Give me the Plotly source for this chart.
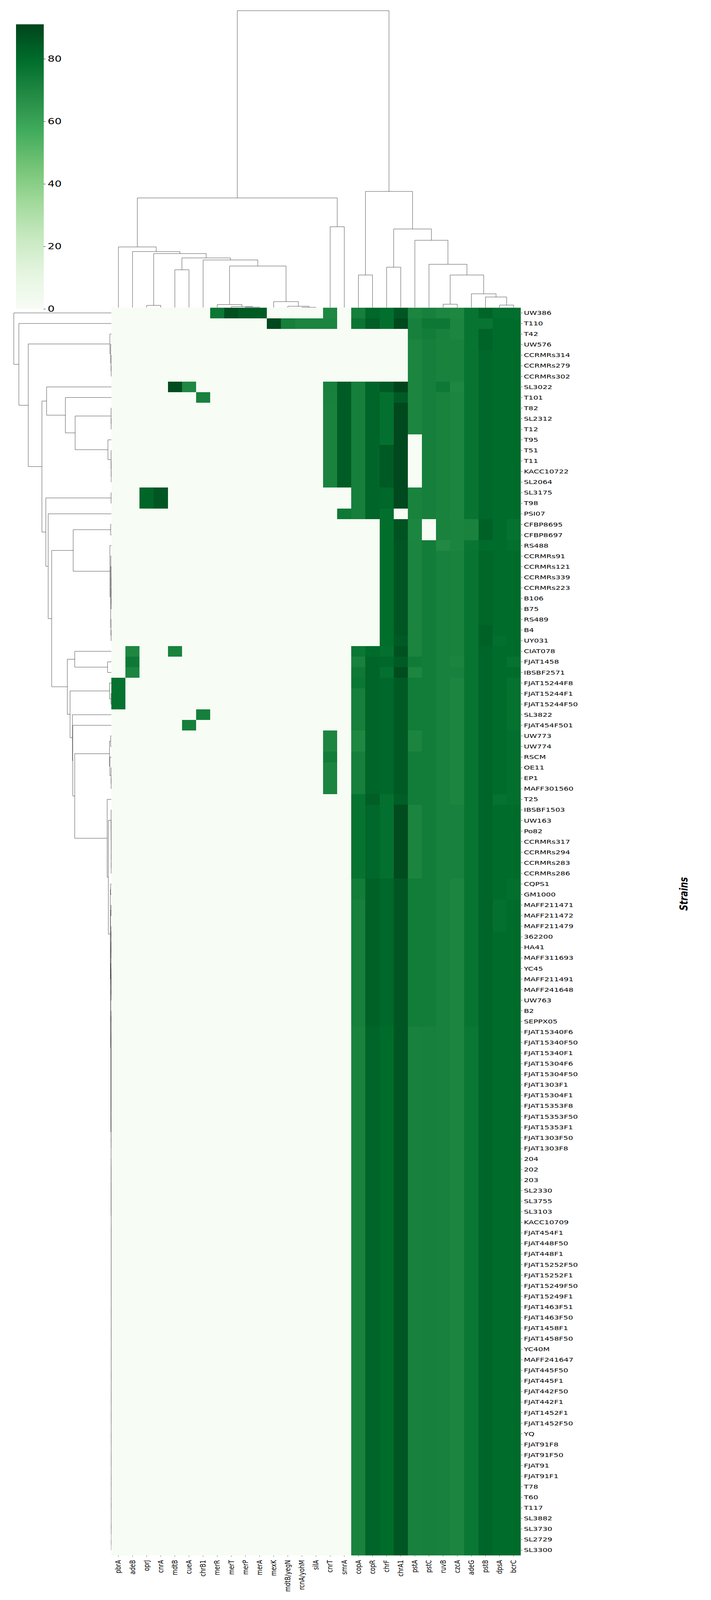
import numpy as np
import plotly.graph_objects as go

W, H = 1820, 5529

strains = [
    'UW386', 'T110', 'T42', 'UW576', 'CCRMRs314', 'CCRMRs279', 'CCRMRs302', 'SL3022', 'T101', 'T82',
    'SL2312', 'T12', 'T95', 'T51', 'T11', 'KACC10722', 'SL2064', 'SL3175', 'T98', 'PSI07',
    'CFBP8695', 'CFBP8697', 'RS488', 'CCRMRs91', 'CCRMRs121', 'CCRMRs339', 'CCRMRs223', 'B106', 'B75', 'RS489',
    'B4', 'UY031', 'CIAT078', 'FJAT1458', 'IBSBF2571', 'FJAT15244F8', 'FJAT15244F1', 'FJAT15244F50', 'SL3822', 'FJAT454F501',
    'UW773', 'UW774', 'RSCM', 'OE11', 'EP1', 'MAFF301560', 'T25', 'IBSBF1503', 'UW163', 'Po82',
    'CCRMRs317', 'CCRMRs294', 'CCRMRs283', 'CCRMRs286', 'CQPS1', 'GM1000', 'MAFF211471', 'MAFF211472', 'MAFF211479', '362200',
    'HA41', 'MAFF311693', 'YC45', 'MAFF211491', 'MAFF241648', 'UW763', 'B2', 'SEPPX05', 'FJAT15340F6', 'FJAT15340F50',
    'FJAT15340F1', 'FJAT15304F6', 'FJAT15304F50', 'FJAT1303F1', 'FJAT15304F1', 'FJAT15353F8', 'FJAT15353F50', 'FJAT15353F1', 'FJAT1303F50', 'FJAT1303F8',
    '204', '202', '203', 'SL2330', 'SL3755', 'SL3103', 'KACC10709', 'FJAT454F1', 'FJAT448F50', 'FJAT448F1',
    'FJAT15252F50', 'FJAT15252F1', 'FJAT15249F50', 'FJAT15249F1', 'FJAT1463F51', 'FJAT1463F50', 'FJAT1458F1', 'FJAT1458F50', 'YC40M', 'MAFF241647',
    'FJAT445F50', 'FJAT445F1', 'FJAT442F50', 'FJAT442F1', 'FJAT1452F1', 'FJAT1452F50', 'YQ', 'FJAT91F8', 'FJAT91F50', 'FJAT91',
    'FJAT91F1', 'T78', 'T60', 'T117', 'SL3882', 'SL3730', 'SL2729', 'SL3300',
]

genes = [
    'pbrA', 'adeB', 'oprJ', 'cnrA', 'mdtB', 'cueA', 'chrB1', 'merR', 'merT', 'merP',
    'merA', 'mexK', 'mdtB/yegN', 'rcnA/yohM', 'silA', 'cnrT', 'smrA', 'copA', 'copR', 'chrF',
    'chrA1', 'pstA', 'pstC', 'ruvB', 'czcA', 'adeG', 'pstB', 'dpsA', 'bcrC',
]

# values per gene, top row to bottom row
pbrA = [0]*35 + [78]*3 + [0]*80
adeB = [0]*32 + [70, 75, 70.5] + [0]*83
oprJ = [0]*17 + [82]*2 + [0]*99
cnrA = [0]*17 + [86]*2 + [0]*99
mdtB = [0]*7 + [89] + [0]*24 + [71.5] + [0]*85
cueA = [0]*7 + [70] + [0]*31 + [73] + [0]*78
chrB1 = [0]*8 + [72] + [0]*29 + [73] + [0]*79
merR = [76] + [0]*117
merT = [88] + [0]*117
merP = [85] + [0]*117
merA = [84.5] + [0]*117
mexK = [0, 90] + [0]*116
mdtB_yegN = [0, 73] + [0]*116
rcnA_yohM = [0, 71] + [0]*116
silA = [0, 71] + [0]*116
cnrT = [70, 71] + [0]*5 + [72.5, 72] + [71.5]*8 + [0]*23 + [70.5, 70.5, 74, 71, 71, 71] + [0]*72
smrA = [0]*7 + [84.5]*10 + [0]*2 + [75] + [0]*98
copA = [73, 76.5] + [0]*5 + [73]*13 + [0]*12 + [76, 72, 75, 76] + [73]*4 + [70]*2 + [73]*4 + [77.5]*8 + [74]*2 + [72.5]*12 + [71.5]*50
copR = [81, 84] + [0]*5 + [82]*13 + [0]*12 + [80] + [82]*13 + [84] + [81]*7 + [83]*14 + [82]*50
chrF = [79, 79] + [0]*5 + [85, 78.5] + [78.5]*4 + [85]*4 + [81]*2 + [79] + [79.5]*12 + [78.5, 81, 78.5] + [81]*11 + [78.5] + [78.5]*7 + [81]*14 + [80]*50
chrA1 = [86, 90] + [0]*5 + [91, 85] + [90]*10 + [0] + [87]*2 + [86.5]*8 + [86, 85, 87.5, 85, 89] + [85]*11 + [84] + [89]*7 + [86]*64
pstA = [70.5, 72.5, 72.5] + [70.5]*9 + [0]*5 + [71.5]*3 + [70.5]*2 + [71]*11 + [74.5, 70.5] + [74]*5 + [71]*2 + [74]*5 + [71]*7 + [74]*14 + [72]*50
pstC = [72.5, 75.5, 74] + [73]*9 + [73]*8 + [0]*2 + [74] + [74]*45 + [72.5]*50
ruvB = [70.5, 75.5, 72] + [71.5]*4 + [75] + [71.5]*14 + [69] + [72]*95
czcA = [70, 70.5, 70.5] + [71.5]*4 + [70] + [70.5]*12 + [71]*3 + [71.5]*10 + [71, 72] + [70.5]*5 + [70.5]*7 + [72]*7 + [70.5]*64
adeG = [77]*20 + [71.5]*2 + [76.5] + [77]*45 + [76]*50
pstB = [82, 77, 82.5, 82.5] + [81]*16 + [83]*2 + [80] + [81.5]*7 + [83]*2 + [82]*86
dpsA = [79] + [80]*30 + [79] + [80]*14 + [78] + [80]*9 + [78.5]*3 + [80]*59
bcrC = [79] + [80]*19 + [78]*2 + [79] + [80]*10 + [78, 80] + [78]*5 + [79]*2 + [79]*4 + [79] + [80]*7 + [79]*2 + [80]*62

gene_values = [
    pbrA, adeB, oprJ, cnrA, mdtB, cueA, chrB1, merR, merT, merP,
    merA, mexK, mdtB_yegN, rcnA_yohM, silA, cnrT, smrA, copA, copR, chrF,
    chrA1, pstA, pstC, ruvB, czcA, adeG, pstB, dpsA, bcrC,
]

# linkage of the genes (leaf i is i, link k is 29 + k)
gene_link_a = [2, 4, 9, 8, 7, 13, 12, 11, 33, 6, 30, 29, 1, 0, 15, 42, 17, 19, 23, 27, 26, 25, 47, 22, 21, 46, 45, 44]
gene_link_b = [3, 5, 10, 31, 32, 14, 34, 35, 36, 37, 38, 39, 40, 41, 16, 43, 18, 20, 24, 28, 48, 49, 50, 51, 52, 53, 54, 55]
gene_link_h = [7.7, 130.7, 1.7, 3.7, 10.7, 1.0, 4.7, 20.7, 143.7, 164.7, 171.7, 186.7, 193.7, 209.7, 279.4, 379,
               112.7, 139.7, 11.7, 8.7, 36.7, 47.7, 112.7, 149.7, 232.7, 271.7, 401.5, 1026]

# linkage of the strains (leaf i is i, link k is 118 + k)
strain_link_a = [
    5, 4, 3, 2, 10, 9, 15, 14, 13, 12, 123, 8, 7, 17, 20, 27, 26, 25, 24, 23,
    30, 29, 137, 22, 132, 33, 32, 36, 35, 40, 44, 43, 42, 147, 52, 51, 50, 49, 48, 47,
    54, 56, 64, 62, 60, 58, 161, 163, 165, 66, 68, 70, 72, 74, 76, 78, 168, 170, 172, 175,
    174, 167, 81, 80, 84, 83, 181, 86, 88, 90, 92, 94, 96, 98, 100, 102, 104, 106, 108, 110,
    112, 114, 116, 199, 198, 197, 196, 195, 194, 193, 192, 191, 190, 189, 188, 187, 186, 185, 184, 179,
    166, 159, 158, 157, 46, 151, 39, 38, 146, 144, 142, 19, 131, 130, 121, 1, 0,
]
strain_link_b = [
    6, 118, 119, 120, 11, 122, 16, 124, 125, 126, 127, 128, 129, 18, 21, 28, 133, 134, 135, 136,
    31, 138, 139, 140, 141, 34, 143, 37, 145, 41, 45, 148, 149, 150, 53, 152, 153, 154, 155, 156,
    55, 57, 65, 63, 61, 59, 160, 162, 164, 67, 69, 71, 73, 75, 77, 79, 169, 171, 173, 176,
    177, 178, 82, 180, 85, 182, 183, 87, 89, 91, 93, 95, 97, 99, 101, 103, 105, 107, 109, 111,
    113, 115, 117, 200, 201, 202, 203, 204, 205, 206, 207, 208, 209, 210, 211, 212, 213, 214, 215, 216,
    217, 218, 219, 220, 221, 222, 223, 224, 225, 226, 227, 228, 229, 230, 231, 232, 233,
]
strain_link_h = [
    .4, .8, 1.7, 3.7, .4, .7, .3, .5, .7, 8.7, 92.7, 117.7, 165.7, .7, 1.7, .4, .6, .8, 1.0, 1.3,
    .6, 1.0, 1.7, 3.7, 97.7, 9.7, 93.7, 1.0, 4.7, 1.7, .4, .7, 3.7, 4.7, .3, .4, .45, .5, .6, .7,
    1.7, .7, .3, .2, .2, .2, .5, .4, .8, .2, .05, .05, .05, .05, .05, .05, .1, .1, .1, .15,
    .2, .4, .05, .1, .05, .1, .15, .05, .05, .05, .05, .05, .05, .05, .05, .05, .05, .05, .05, .05,
    .05, .05, .05, .1, .12, .14, .16, .18, .2, .22, .24, .26, .28, .3, .32, .34, .36, .38, .5, .7,
    1.3, 2.0, 2.7, 7.7, 10.7, 93.7, 98.7, 99.7, 105.7, 112.7, 152.7, 161.7, 167.7, 177.7, 212.7, 236.7, 249.7,
]

colorbar_ticks = [0, 20, 40, 60, 80]

greens = ['#f7fcf5', '#e5f5e0', '#c7e9c0', '#a1d99b', '#74c476', '#41ab5d', '#238b45', '#006d2c', '#00441b']


def link_lines(n_leaves, link_a, link_b, link_h):
    # returns (position, height) polylines of a dendrogram, leaves at 0 .. n-1
    pos = {i: float(i) for i in range(n_leaves)}
    height = {i: 0.0 for i in range(n_leaves)}
    ps, hs = [], []
    for k, (a, b, h) in enumerate(zip(link_a, link_b, link_h)):
        ps += [pos[a], pos[a], pos[b], pos[b], None]
        hs += [height[a], h, h, height[b], None]
        pos[n_leaves + k] = (pos[a] + pos[b]) / 2
        height[n_leaves + k] = h
    return ps, hs


# pixel layout of the panels
heat_left, heat_right = 285, 1333
heat_top, heat_bottom = 1063, 5375
x_heat = [heat_left / W, heat_right / W]
y_heat = [1 - heat_bottom / H, 1 - heat_top / H]

fig = go.Figure()

fig.add_trace(go.Heatmap(
    z=np.array(gene_values).T,
    x=list(range(len(genes))),
    y=list(range(len(strains))),
    zmin=0,
    zmax=91.1,
    colorscale=[[i / 8, c] for i, c in enumerate(greens)],
    hoverongaps=False,
    colorbar=dict(
        x=40.6 / W, xanchor='left', xpad=0,
        y=1 - 84 / H, yanchor='top', ypad=0,
        len=984, lenmode='pixels',
        thickness=71, thicknessmode='pixels',
        outlinewidth=0,
        tickmode='array', tickvals=colorbar_ticks,
        ticks='outside', ticklen=5, tickwidth=1, tickcolor='black',
        tickfont=dict(family='DejaVu Sans', size=28, color='black'),
    ),
    xaxis='x',
    yaxis='y',
))

# dendrogram over the columns
gene_pos, gene_h = link_lines(len(genes), gene_link_a, gene_link_b, gene_link_h)
fig.add_trace(go.Scatter(
    x=gene_pos, y=gene_h, mode='lines',
    line=dict(color='#333333', width=1),
    hoverinfo='skip', showlegend=False,
    xaxis='x3', yaxis='y3',
))

# dendrogram left of the rows
strain_pos, strain_h = link_lines(len(strains), strain_link_a, strain_link_b, strain_link_h)
fig.add_trace(go.Scatter(
    x=strain_h, y=strain_pos, mode='lines',
    line=dict(color='#333333', width=1),
    hoverinfo='skip', showlegend=False,
    xaxis='x2', yaxis='y2',
))

plain = dict(showgrid=False, zeroline=False, showline=False, showticklabels=False, ticks='')

fig.update_layout(
    width=W,
    height=H,
    margin=dict(l=0, r=0, t=0, b=0),
    paper_bgcolor='white',
    plot_bgcolor='white',
    showlegend=False,
    xaxis=dict(
        domain=x_heat, range=[-0.5, len(genes) - 0.5],
        tickmode='array', tickvals=list(range(len(genes))), ticktext=genes,
        tickangle=-90, ticks='outside', ticklen=3, tickcolor='black',
        ticklabelstandoff=4,
        tickfont=dict(family='DejaVu Sans', size=19.5, color='black'),
        showgrid=False, zeroline=False, showline=False,
        anchor='y',
    ),
    yaxis=dict(
        domain=y_heat, range=[len(strains) - 0.5, -0.5],
        tickmode='array', tickvals=list(range(len(strains))), ticktext=strains,
        side='right', ticks='outside', ticklen=3, tickcolor='black',
        tickfont=dict(family='DejaVu Sans', size=19.5, color='black'),
        showgrid=False, zeroline=False, showline=False,
        anchor='x',
    ),
    xaxis2=dict(domain=[0, heat_left / W], range=[heat_left, 0], anchor='y2', **plain),
    yaxis2=dict(domain=y_heat, range=[len(strains) - 0.5, -0.5], anchor='x2', **plain),
    xaxis3=dict(domain=x_heat, range=[-0.5, len(genes) - 0.5], anchor='y3', **plain),
    yaxis3=dict(domain=[1 - heat_top / H, 1], range=[0, heat_top], anchor='x3', **plain),
    annotations=[dict(
        text='<b><i>Strains</i></b>',
        xref='paper', yref='paper',
        x=1769 / W, y=1 - 3089 / H,
        textangle=-90, showarrow=False,
        font=dict(family='DejaVu Sans', size=29, color='black'),
    )],
)

# the browser may give less height than asked for, so fit the whole page into the window
fit_page = """
var s = Math.min(1, window.innerHeight / 5529);
document.documentElement.style.overflow = 'hidden';
document.body.style.margin = '0';
document.body.style.transformOrigin = '0 0';
document.body.style.transform = 'scale(1,' + s + ')';
"""

fig.write_html("out.html", config={'displayModeBar': False}, post_script=fit_page)
